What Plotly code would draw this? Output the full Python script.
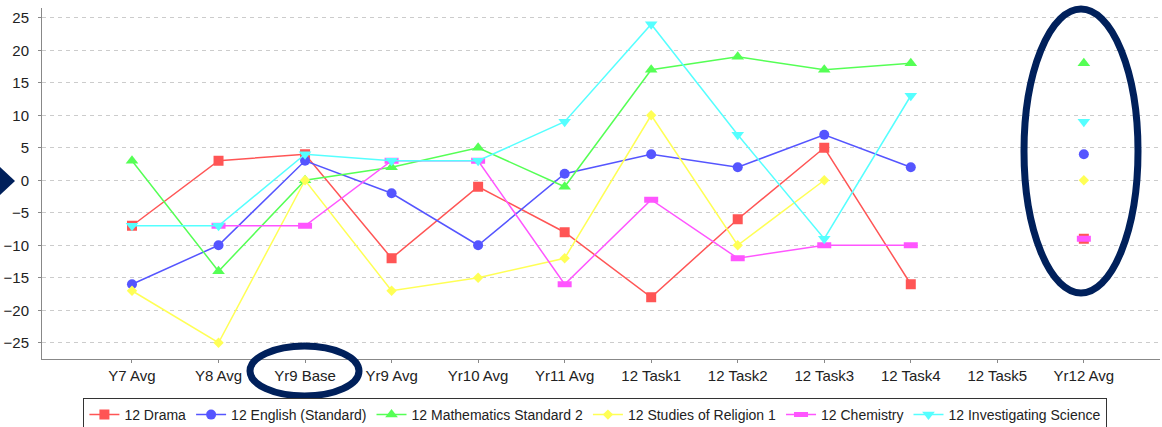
import plotly.graph_objects as go

categories = ["Y7 Avg", "Y8 Avg", "Yr9 Base", "Yr9 Avg", "Yr10 Avg", "Yr11 Avg",
              "12 Task1", "12 Task2", "12 Task3", "12 Task4", "12 Task5", "Yr12 Avg"]

drama = [-7, 3, 4, -12, -1, -8, -18, -6, 5, -16, None, -9]
english = [-16, -10, 3, -2, -10, 1, 4, 2, 7, 2, None, 4]
maths = [3, -14, 0, 2, 5, -1, 17, 19, 17, 18, None, 18]
religion = [-17, -25, 0, -17, -15, -12, 10, -10, 0, None, None, 0]
chemistry = [None, -7, -7, 3, 3, -16, -3, -12, -10, -10, None, -9]
inv_science = [-7, -7, 4, 3, 3, 9, 24, 7, -9, 13, None, 9]

y_ticks = [25, 20, 15, 10, 5, 0, -5, -10, -15, -20, -25]

series = [
    ("12 Drama", drama, "#FF5555", dict(symbol="square", size=10)),
    ("12 English (Standard)", english, "#5555FF", dict(symbol="circle", size=10)),
    ("12 Mathematics Standard 2", maths, "#55FF55", dict(symbol="triangle-up", size=11)),
    ("12 Studies of Religion 1", religion, "#FFFF55", dict(symbol="diamond", size=8)),
    ("12 Chemistry", chemistry, "#FF55FF", dict(symbol="line-ew", size=10)),
    ("12 Investigating Science", inv_science, "#55FFFF", dict(symbol="triangle-down", size=11)),
]

fig = go.Figure()
for name, vals, color, mk in series:
    marker = dict(color=color, **mk)
    if mk["symbol"] == "line-ew":
        marker["line"] = dict(color=color, width=6)
    else:
        marker["line"] = dict(width=0)
    fig.add_trace(go.Scatter(x=categories, y=vals, name=name, mode="lines+markers",
                             line=dict(color=color, width=1.5), marker=marker))

W, H = 1162, 427
L, R, T, B = 42, 2, 8, 68
pw, ph = W - L - R, H - T - B


def px(x):
    return (x - L) / pw


def py(y):
    return (H - B - y) / ph


navy = "#00205B"
shapes = [
    dict(type="circle", xref="paper", yref="paper",
         x0=px(1024), x1=px(1138), y0=py(9), y1=py(293),
         line=dict(color=navy, width=7)),
    dict(type="circle", xref="paper", yref="paper",
         x0=px(250), x1=px(359), y0=py(346), y1=py(396),
         line=dict(color=navy, width=7)),
    dict(type="path", xref="paper", yref="paper",
         path=f"M {px(-2)},{py(165)} L {px(15)},{py(181)} L {px(-2)},{py(197)} Z",
         fillcolor=navy, line=dict(color=navy, width=0)),
]

fig.update_layout(
    width=W, height=H,
    margin=dict(l=L, r=R, t=T, b=B, autoexpand=False),
    paper_bgcolor="white", plot_bgcolor="white",
    font=dict(family="Liberation Sans, Arial, sans-serif", size=15, color="#222222"),
    showlegend=True,
    legend=dict(orientation="h", x=0.495, xanchor="center", y=py(398), yanchor="top",
                bordercolor="#333333", borderwidth=1, bgcolor="white",
                font=dict(size=14, color="#222222"), itemwidth=30, tracegroupgap=0),
    shapes=shapes,
)
fig.update_xaxes(type="category", categoryorder="array", categoryarray=categories,
                 range=[-1.04, 11.88], showgrid=False, showline=True, linecolor="#888888",
                 linewidth=1, ticks="outside", ticklen=3, tickcolor="#888888",
                 tickfont=dict(size=15, color="#222222"), zeroline=False, automargin=False)
fig.update_yaxes(range=[-27.5, 26.5], tickvals=y_ticks, showgrid=True,
                 gridcolor="#CCCCCC", griddash="4px,4px", gridwidth=1,
                 showline=True, linecolor="#888888", linewidth=1, ticks="outside",
                 ticklen=3, tickcolor="#888888", zeroline=False, automargin=False,
                 ticklabelstandoff=6, tickfont=dict(size=15, color="#222222"))

fig.write_html("out.html", config={"displayModeBar": False},
               post_script="document.body.style.margin='0';document.body.style.overflow='hidden';")
